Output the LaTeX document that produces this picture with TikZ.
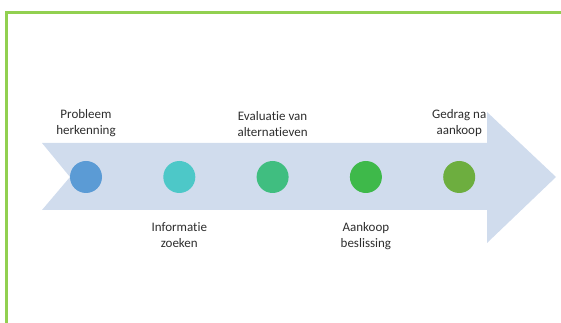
\documentclass[tikz,border=0pt]{standalone}
\usepackage{fontspec}
\setmainfont{Carlito}[Ligatures=NoCommon]
\usetikzlibrary{positioning}
\definecolor{framegreen}{RGB}{146,208,80}
\definecolor{arrowblue}{RGB}{208,220,237}
\definecolor{stepA}{RGB}{91,155,213}
\definecolor{stepB}{RGB}{77,200,200}
\definecolor{stepC}{RGB}{64,190,128}
\definecolor{stepD}{RGB}{62,185,74}
\definecolor{stepE}{RGB}{109,174,63}
\definecolor{labelgray}{RGB}{45,45,45}
\tikzset{
  dot/.style={circle, fill=#1, minimum size=24pt, inner sep=0},
  steplabel/.style={align=center, text=labelgray, inner sep=0,
    font=\fontsize{9.75pt}{11.6pt}\selectfont}
}
\begin{document}
\begin{tikzpicture}[x=0.75pt, y=-0.75pt]
    % Parameters
    \def\firstx{86} % x of the first dot
    \def\gap{93.3} % distance between dots
    \def\midy{177} % height of the arrow axis

    \useasboundingbox (0,0) rectangle (561,323);

    % Green frame (top and left only)
    \draw[framegreen, line width=2.3pt] (6.5,323) -- (6.5,12.5) -- (561,12.5);

    % The big arrow with the notch at the back
    \fill[arrowblue] (42,143) -- (487,143) -- (487,112) -- (556,\midy)
        -- (487,243) -- (487,210) -- (42,210) -- (70,\midy) -- cycle;

    % Dots
    \foreach \i/\col in {1/stepA,2/stepB,3/stepC,4/stepD,5/stepE} {
        \pgfmathsetmacro{\xpos}{\firstx + (\i-1)*\gap}
        \node[dot=\col] (c\i) at (\xpos, \midy) {};
    }

    % Labels, alternating above and below
    \node[steplabel, above=18pt of c1] (l1) {Probleem\\herkenning};
    \node[steplabel, below=22pt of c2] (l2) {Informatie\\zoeken};
    \node[steplabel, above=18pt of c3] (l3) {Evaluatie van\\alternatieven};
    \node[steplabel, below=22pt of c4] (l4) {Aankoop\\beslissing};
    \node[steplabel, above=18pt of c5] (l5) {Gedrag na\\aankoop};
\end{tikzpicture}
\end{document}
